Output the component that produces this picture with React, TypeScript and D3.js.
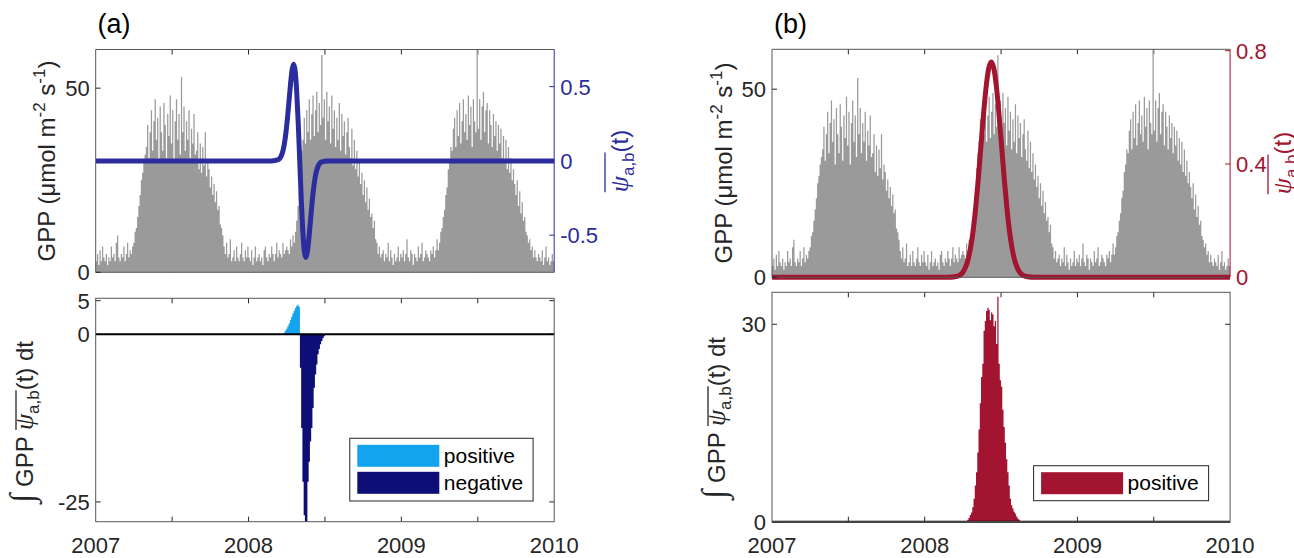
import React, { useRef, useEffect } from 'react';
import * as d3 from 'd3';

// GPP, 3-day steps (122 per year)
const STEPS = 122;
const gppYears = [2007, 2008, 2009];
const gpp2007 = [
  3, 5, 2, 6, 3, 7, 4, 3, 5, 2,
  4, 3, 7, 4, 5, 3, 8, 10, 4, 3,
  5, 4, 7, 3, 5, 8, 4, 6, 5, 7,
  8, 11, 12, 15, 18, 21, 25, 27, 30, 32,
  34, 40, 31, 38, 44, 33, 41, 47, 36, 42,
  30, 45, 38, 33, 46, 40, 31, 43, 37, 48,
  35, 44, 30, 41, 47, 36, 43, 32, 53, 38,
  45, 33, 41, 36, 44, 31, 39, 35, 43, 32,
  33, 38, 28, 35, 27, 34, 29, 38, 26, 30,
  28, 23, 26, 21, 24, 19, 22, 17, 18, 13,
  12, 10, 7, 5, 8, 4, 5, 9, 3, 4,
  6, 3, 7, 4, 3, 5, 8, 4, 3, 6, 4, 7,
];
const gpp2008 = [
  4, 3, 6, 2, 4, 7, 3, 4, 5, 3,
  4, 2, 6, 7, 4, 3, 5, 4, 7, 5,
  3, 5, 8, 4, 6, 5, 4, 8, 5, 6,
  7, 6, 5, 9, 7, 10, 8, 11, 14, 18,
  22, 29, 33, 36, 42, 35, 44, 38, 47, 36,
  43, 48, 37, 44, 49, 38, 46, 40, 59, 42,
  47, 36, 49, 41, 45, 35, 48, 39, 44, 34,
  42, 36, 46, 33, 43, 37, 41, 32, 38, 42,
  34, 31, 39, 29, 36, 28, 33, 26, 30, 24,
  27, 21, 25, 19, 23, 17, 20, 15, 16, 12,
  14, 9, 8, 5, 7, 4, 5, 6, 3, 5,
  4, 8, 3, 6, 4, 2, 5, 3, 4, 7, 3, 5,
];
const gpp2009 = [
  4, 6, 3, 5, 9, 4, 3, 6, 5, 2,
  5, 4, 3, 7, 4, 5, 8, 3, 4, 6,
  5, 4, 3, 6, 5, 7, 4, 6, 9, 6,
  8, 11, 12, 15, 17, 21, 23, 28, 30, 34,
  33, 39, 42, 34, 44, 37, 46, 35, 41, 47,
  38, 43, 36, 48, 40, 45, 34, 47, 41, 38,
  61, 39, 47, 36, 45, 49, 38, 44, 46, 35,
  44, 40, 34, 43, 37, 41, 33, 40, 35, 39,
  31, 37, 30, 36, 28, 34, 27, 31, 25, 28,
  24, 21, 25, 18, 22, 16, 19, 14, 15, 11,
  10, 8, 9, 6, 7, 4, 6, 4, 3, 5,
  4, 3, 6, 2, 4, 7, 3, 4, 2, 3, 5, 3,
];
const gppSeries = [gpp2007, gpp2008, gpp2009];

// (a) wavelet psi_a,b(t)
const waveATimes = [
  2007, 2008.15, 2008.195, 2008.205, 2008.215, 2008.225, 2008.235, 2008.245, 2008.255,
  2008.265, 2008.275, 2008.285, 2008.295, 2008.305, 2008.315, 2008.325, 2008.335,
  2008.345, 2008.355, 2008.365, 2008.375, 2008.385, 2008.395, 2008.405, 2008.415,
  2008.425, 2008.435, 2008.445, 2008.455, 2008.465, 2008.475, 2008.52, 2010,
];
const waveAValues = [
  0, 0, 0.008, 0.018, 0.036, 0.067, 0.118, 0.192, 0.29,
  0.406, 0.52, 0.613, 0.65, 0.607, 0.47, 0.26, 0,
  -0.26, -0.47, -0.607, -0.65, -0.613, -0.52, -0.406, -0.29,
  -0.192, -0.118, -0.067, -0.036, -0.018, -0.008, 0, 0,
];

// (b) wavelet psi_a,b(t)
const waveBTimes = [
  2007, 2008.15, 2008.198, 2008.215, 2008.232, 2008.249, 2008.266, 2008.283, 2008.3,
  2008.317, 2008.334, 2008.351, 2008.368, 2008.385, 2008.402, 2008.419, 2008.436,
  2008.453, 2008.47, 2008.487, 2008.504, 2008.521, 2008.538, 2008.555, 2008.572,
  2008.589, 2008.606, 2008.623, 2008.64, 2008.657, 2008.674, 2008.72, 2010,
];
const waveBValues = [
  0, 0, 0.0017, 0.0039, 0.0084, 0.0173, 0.0334, 0.0605, 0.103,
  0.164, 0.247, 0.348, 0.461, 0.574, 0.671, 0.737, 0.76,
  0.737, 0.671, 0.574, 0.461, 0.348, 0.247, 0.164, 0.103,
  0.0605, 0.0334, 0.0173, 0.0084, 0.0039, 0.0017, 0, 0,
];

// integrand GPP * psi, same 3-day steps, starting at step index within 2008
const prodAStart = 28;
const prodAValues = [
  0.2, 0.5, 0.8, 1.2, 1.6, 2.1, 2.6, 3.1, 3.5, 3.9, 4.2, 4.4, 4.1,
  -5, -14, -22, -27, -34, -32, -22, -19, -16, -14, -11, -8, -6, -4.5,
  -3, -2.2, -1.5, -1, -0.6, -0.3,
];
const prodBStart = 34;
const prodBValues = [
  0.3, 0.6, 1.0, 1.4, 2.2, 3.5, 5.5, 7.5, 10.5, 14, 18, 22, 24, 29, 30.5,
  32, 32.5, 32.2, 30.6, 31.8, 31.5, 29.7, 30.5, 27, 34.2, 24, 21.5, 20.5,
  17, 14.4, 12, 9.5, 7.5, 5.5, 3.5, 2.5, 2, 1.5, 1.2, 0.8, 0.5, 0.3, 0.1,
];

const xTicks = [2007, 2007.5, 2008, 2008.5, 2009, 2009.5, 2010];
const xTickLabels = ['2007', '2008', '2009', '2010'];
const gppTicks = [0, 50];
const waveATicks = [-0.5, 0, 0.5];
const waveBTicks = [0, 0.4, 0.8];
const prodATicks = [-25, 0, 5];
const prodBTicks = [0, 30];

const W = 1294;
const H = 558;
const SANS = '"Liberation Sans", Arial, Helvetica, sans-serif';
const SERIF = '"Liberation Serif", "DejaVu Serif", serif';
const INK = '#262626';
const GRAY = '#9a9a9a';
const BLUE = '#2b2c9e';
const RED = '#a2142f';
const LIGHT = '#14a3ee';
const NAVY = '#0d0f76';
const TICK = 5;

type Pt = { t: number; v: number };

const gppPoints: Pt[] = gppSeries.flatMap((vals, k) => vals.map((v, i) => ({ t: gppYears[k] + i / STEPS, v })));
gppPoints.push({ t: 2010, v: 0 });

const toPoints = (start: number, vals: number[]): Pt[] => {
  const pts = vals.map((v, i) => ({ t: 2008 + (start + i) / STEPS, v }));
  pts.push({ t: 2008 + (start + vals.length) / STEPS, v: 0 });
  return pts;
};

type Part = { text: string; size?: number; dy?: number; italic?: boolean; serif?: boolean; over?: boolean };

// rotated (bottom-to-top) label with optional overline over flagged parts
function addLabel(parent: any, x: number, y: number, parts: Part[], color: string, overY: number) {
  const g = parent.append('g').attr('transform', `translate(${x},${y}) rotate(-90)`);
  const text = g.append('text')
    .attr('text-anchor', 'middle')
    .attr('fill', color)
    .style('font-family', SANS)
    .style('font-size', '24px')
    .style('white-space', 'pre');
  parts.forEach(p => {
    const ts = text.append('tspan').text(p.text);
    if (p.size) ts.style('font-size', p.size + 'px');
    if (p.dy) ts.attr('dy', p.dy);
    if (p.italic) ts.style('font-style', 'italic');
    if (p.serif) ts.style('font-family', SERIF);
  });
  const node = text.node() as SVGTextElement;
  let idx = 0;
  let x0: number | null = null;
  let x1: number | null = null;
  parts.forEach(p => {
    if (p.over) {
      const s = node.getStartPositionOfChar(idx).x;
      const e = node.getEndPositionOfChar(idx + p.text.length - 1).x;
      x0 = x0 === null ? s : Math.min(x0, s);
      x1 = x1 === null ? e : Math.max(x1, e);
    }
    idx += p.text.length;
  });
  if (x0 !== null && x1 !== null) {
    g.append('line').attr('x1', x0).attr('x2', x1).attr('y1', overY).attr('y2', overY)
      .attr('stroke', color).attr('stroke-width', 1.3);
  }
}

const gppLabel: Part[] = [
  { text: 'GPP (μmol m' },
  { text: '-2', size: 17, dy: -10 },
  { text: ' s', dy: 10 },
  { text: '-1', size: 17, dy: -10 },
  { text: ')', dy: 10 },
];
const waveLabel: Part[] = [
  { text: 'ψ', serif: true, italic: true, over: true, size: 26 },
  { text: 'a,b', size: 17, dy: 6, over: true },
  { text: '(t)', dy: -6 },
];
const prodLabel: Part[] = [
  { text: '∫', serif: true, italic: true, size: 34 },
  { text: ' GPP ' },
  { text: 'ψ', serif: true, italic: true, over: true, size: 26 },
  { text: 'a,b', size: 17, dy: 6, over: true },
  { text: '(t) dt', dy: -6 },
];

function drawTicksX(g: any, x: any, top: number, bottom: number) {
  xTicks.slice(1, -1).forEach(t => {
    g.append('line').attr('x1', x(t)).attr('x2', x(t)).attr('y1', top).attr('y2', top + TICK).attr('stroke', INK);
    g.append('line').attr('x1', x(t)).attr('x2', x(t)).attr('y1', bottom).attr('y2', bottom - TICK).attr('stroke', INK);
  });
}

function drawTicksY(g: any, y: any, ticks: number[], ax: number, dir: number, color: string, labelSide: number | null) {
  ticks.forEach(v => {
    g.append('line').attr('x1', ax).attr('x2', ax + dir * TICK).attr('y1', y(v)).attr('y2', y(v)).attr('stroke', color);
    if (labelSide !== null) {
      g.append('text')
        .attr('x', ax + labelSide * 6)
        .attr('y', y(v) + 8)
        .attr('text-anchor', labelSide < 0 ? 'end' : 'start')
        .attr('fill', color)
        .style('font-family', SANS)
        .style('font-size', '22px')
        .text(String(v));
    }
  });
}

function drawTop(svg: any, id: string, left: number, right: number, top: number, bottom: number, yMax: number,
  wDomain: number[], wTicks: number[], wColor: string, wTimes: number[], wValues: number[]) {
  const x = d3.scaleLinear().domain([2007, 2010]).range([left, right]);
  const y = d3.scaleLinear().domain([0, yMax]).range([bottom, top]);
  const yw = d3.scaleLinear().domain(wDomain).range([bottom, top]);
  const g = svg.append('g');

  svg.select('defs').append('clipPath').attr('id', id)
    .append('rect').attr('x', left).attr('y', top).attr('width', right - left).attr('height', bottom - top);
  svg.select('defs').append('clipPath').attr('id', id + 'l')
    .append('rect').attr('x', left).attr('y', top - 4).attr('width', right - left).attr('height', bottom - top + 8);

  drawTicksX(g, x, top, bottom);

  const area = d3.area<Pt>().curve(d3.curveStepAfter).x(d => x(d.t)).y0(y(0)).y1(d => y(d.v));
  g.append('path').attr('d', area(gppPoints)).attr('fill', GRAY).attr('clip-path', `url(#${id})`);

  const line = d3.line<number>().curve(d3.curveMonotoneX).x((_, i) => x(wTimes[i])).y(d => yw(d));
  g.append('path').attr('d', line(wValues)).attr('fill', 'none').attr('stroke', wColor)
    .attr('stroke-width', 5).attr('stroke-linejoin', 'round').attr('clip-path', `url(#${id}l)`);

  // box
  g.append('line').attr('x1', left).attr('x2', right).attr('y1', top).attr('y2', top).attr('stroke', '#555');
  g.append('line').attr('x1', left).attr('x2', left).attr('y1', top).attr('y2', bottom).attr('stroke', '#555');
  g.append('line').attr('x1', left).attr('x2', right).attr('y1', bottom).attr('y2', bottom).attr('stroke', '#555');
  g.append('line').attr('x1', right).attr('x2', right).attr('y1', top).attr('y2', bottom).attr('stroke', wColor);

  drawTicksY(g, y, gppTicks, left, 1, INK, -1);
  drawTicksY(g, yw, wTicks, right, -1, wColor, 1);
}

function drawBottom(svg: any, id: string, left: number, right: number, top: number, bottom: number, yDomain: number[],
  yTicks: number[], points: Pt[], posColor: string, negColor: string) {
  const x = d3.scaleLinear().domain([2007, 2010]).range([left, right]);
  const y = d3.scaleLinear().domain(yDomain).range([bottom, top]);
  const g = svg.append('g');

  svg.select('defs').append('clipPath').attr('id', id)
    .append('rect').attr('x', left).attr('y', top).attr('width', right - left).attr('height', bottom - top);

  drawTicksX(g, x, top, bottom);
  drawTicksY(g, y, yTicks, left, 1, INK, -1);
  drawTicksY(g, y, yTicks, right, -1, INK, null);

  const pos = d3.area<Pt>().curve(d3.curveStepAfter).x(d => x(d.t)).y0(y(0)).y1(d => y(Math.max(d.v, 0)));
  const neg = d3.area<Pt>().curve(d3.curveStepAfter).x(d => x(d.t)).y0(y(0)).y1(d => y(Math.min(d.v, 0)));
  g.append('path').attr('d', pos(points)).attr('fill', posColor).attr('clip-path', `url(#${id})`);
  g.append('path').attr('d', neg(points)).attr('fill', negColor).attr('clip-path', `url(#${id})`);

  g.append('line').attr('x1', left).attr('x2', right).attr('y1', y(0)).attr('y2', y(0))
    .attr('stroke', '#000').attr('stroke-width', 2);

  g.append('rect').attr('x', left).attr('y', top).attr('width', right - left).attr('height', bottom - top)
    .attr('fill', 'none').attr('stroke', '#555');

  xTickLabels.forEach(lbl => {
    g.append('text')
      .attr('x', x(+lbl))
      .attr('y', 553)
      .attr('text-anchor', 'middle')
      .attr('fill', INK)
      .style('font-family', SANS)
      .style('font-size', '22px')
      .text(lbl);
  });
}

function drawLegend(svg: any, bx: number, by: number, bw: number, bh: number, entries: { label: string; color: string }[]) {
  const g = svg.append('g');
  g.append('rect').attr('x', bx).attr('y', by).attr('width', bw).attr('height', bh)
    .attr('fill', '#fff').attr('stroke', INK).attr('stroke-width', 1);
  entries.forEach((e, i) => {
    const cy = by + 6.5 + i * 27;
    g.append('rect').attr('x', bx + 7.5).attr('y', cy).attr('width', 82).attr('height', 22).attr('fill', e.color);
    g.append('text')
      .attr('x', bx + 94)
      .attr('y', cy + 18)
      .attr('fill', '#000')
      .style('font-family', SANS)
      .style('font-size', '21px')
      .text(e.label);
  });
}

export default function App() {
  const svgRef = useRef<SVGSVGElement>(null);

  useEffect(() => {
    const svg = d3.select(svgRef.current);
    svg.selectAll('*').remove();
    svg.append('defs');
    svg.append('rect').attr('width', W).attr('height', H).attr('fill', '#fff');

    // panel (a)
    drawTop(svg, 'cat', 95.7, 554.2, 49.5, 272.3, 60.5, [-0.75, 0.75], waveATicks, BLUE, waveATimes, waveAValues);
    drawBottom(svg, 'cab', 95.7, 554.2, 298.3, 521.7, [-27.95, 5.35], prodATicks,
      toPoints(prodAStart, prodAValues), LIGHT, NAVY);
    drawLegend(svg, 349.8, 438.3, 183.3, 62.7, [
      { label: 'positive', color: LIGHT },
      { label: 'negative', color: NAVY },
    ]);

    // panel (b)
    drawTop(svg, 'cbt', 772, 1230.1, 49.3, 277.3, 60.6, [0, 0.805], waveBTicks, RED, waveBTimes, waveBValues);
    drawBottom(svg, 'cbb', 772, 1230.1, 292.3, 521.7, [0, 34.86], prodBTicks,
      toPoints(prodBStart, prodBValues), RED, RED);
    drawLegend(svg, 1033.6, 465.7, 175, 35, [{ label: 'positive', color: RED }]);

    // axis labels
    addLabel(svg, 55, 161, gppLabel, INK, -20);
    addLabel(svg, 628, 161, waveLabel, BLUE, -23);
    addLabel(svg, 33, 422, prodLabel, INK, -17);
    addLabel(svg, 732, 163, gppLabel, INK, -20);
    addLabel(svg, 1291, 163, waveLabel, RED, -23);
    addLabel(svg, 725, 418, prodLabel, INK, -17);

    // panel letters
    [['(a)', 97.6], ['(b)', 774]].forEach(([txt, px]) => {
      svg.append('text')
        .attr('x', px as number)
        .attr('y', 33)
        .attr('fill', '#000')
        .style('font-family', SANS)
        .style('font-size', '27px')
        .text(txt as string);
    });
  }, []);

  return <svg ref={svgRef} width={W} height={H} style={{ position: 'absolute', left: 0, top: 0 }} />;
}
